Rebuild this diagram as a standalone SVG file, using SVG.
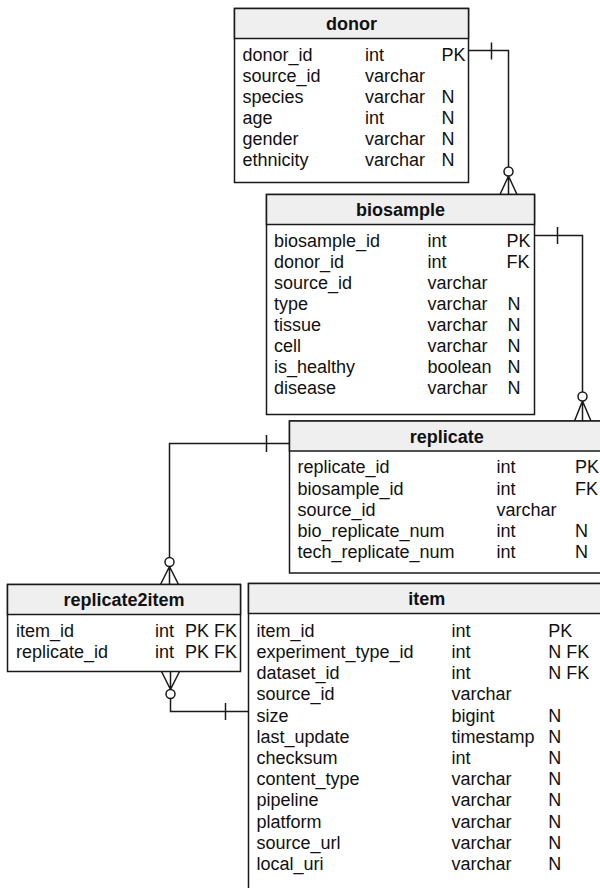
<svg xmlns="http://www.w3.org/2000/svg" width="600" height="888" viewBox="0 0 600 888">
<style>
.box{fill:#fff;stroke:#1a1a1a;stroke-width:1.5}
.hdr{fill:#efefef;stroke:#1a1a1a;stroke-width:1.5}
.t{font-family:"Liberation Sans",Arial,sans-serif;font-size:18px;fill:#111}
.ti{font-family:"Liberation Sans",Arial,sans-serif;font-size:18px;font-weight:bold;fill:#111;text-anchor:middle}
.c{fill:none;stroke:#1a1a1a;stroke-width:1.5}
.o{fill:#fff;stroke:#1a1a1a;stroke-width:1.5}
</style>
<rect width="600" height="888" fill="#fff"/>
<g id="connectors">
  <!-- donor -> biosample -->
  <path class="c" d="M468.5,50.5 H508.5 V167 M491.5,42.5 V59.5 M508.5,176 V194.5 M508.5,176 L500,194.5 M508.5,176 L517,194.5"/>
  <circle class="o" cx="508.5" cy="171.5" r="4.5"/>
  <!-- biosample -> replicate -->
  <path class="c" d="M534.5,235.5 H582.5 V392 M557.5,227 V244 M582.5,401 V421 M582.5,401 L574.5,421 M582.5,401 L591,421"/>
  <circle class="o" cx="582.5" cy="396.5" r="4.5"/>
  <!-- replicate -> replicate2item -->
  <path class="c" d="M289.5,443.5 H169.5 V557.5 M266.5,435 V452 M169.5,566.5 V584.5 M169.5,566.5 L160.5,584.5 M169.5,566.5 L178.5,584.5"/>
  <circle class="o" cx="169.5" cy="562" r="4.5"/>
  <!-- item -> replicate2item -->
  <path class="c" d="M248,711.5 H170.5 V698.5 M225.5,703 V720 M170.5,689.5 V671.5 M170.5,689.5 L161.5,671.5 M170.5,689.5 L179.5,671.5"/>
  <circle class="o" cx="170.5" cy="694" r="4.5"/>
</g>
<g id="donor">
  <rect class="box" x="234.5" y="8.5" width="234" height="174"/>
  <rect class="hdr" x="234.5" y="8.5" width="234" height="30"/>
  <text class="ti" x="351.5" y="30">donor</text>
  <text class="t" x="242.5" y="61">donor_id</text><text class="t" x="365" y="61">int</text><text class="t" x="441.5" y="61">PK</text>
  <text class="t" x="242.5" y="82">source_id</text><text class="t" x="365" y="82">varchar</text>
  <text class="t" x="242.5" y="103">species</text><text class="t" x="365" y="103">varchar</text><text class="t" x="441.5" y="103">N</text>
  <text class="t" x="242.5" y="124">age</text><text class="t" x="365" y="124">int</text><text class="t" x="441.5" y="124">N</text>
  <text class="t" x="242.5" y="145">gender</text><text class="t" x="365" y="145">varchar</text><text class="t" x="441.5" y="145">N</text>
  <text class="t" x="242.5" y="166">ethnicity</text><text class="t" x="365" y="166">varchar</text><text class="t" x="441.5" y="166">N</text>
</g>
<g id="biosample">
  <rect class="box" x="266.5" y="194.5" width="268" height="220"/>
  <rect class="hdr" x="266.5" y="194.5" width="268" height="30"/>
  <text class="ti" x="400.5" y="216">biosample</text>
  <text class="t" x="274" y="246.7">biosample_id</text><text class="t" x="427.5" y="246.7">int</text><text class="t" x="506.5" y="246.7">PK</text>
  <text class="t" x="274" y="267.8">donor_id</text><text class="t" x="427.5" y="267.8">int</text><text class="t" x="506.5" y="267.8">FK</text>
  <text class="t" x="274" y="288.9">source_id</text><text class="t" x="427.5" y="288.9">varchar</text>
  <text class="t" x="274" y="310">type</text><text class="t" x="427.5" y="310">varchar</text><text class="t" x="507.5" y="310">N</text>
  <text class="t" x="274" y="331.1">tissue</text><text class="t" x="427.5" y="331.1">varchar</text><text class="t" x="507.5" y="331.1">N</text>
  <text class="t" x="274" y="352.2">cell</text><text class="t" x="427.5" y="352.2">varchar</text><text class="t" x="507.5" y="352.2">N</text>
  <text class="t" x="274" y="373.3">is_healthy</text><text class="t" x="427.5" y="373.3">boolean</text><text class="t" x="507.5" y="373.3">N</text>
  <text class="t" x="274" y="394.4">disease</text><text class="t" x="427.5" y="394.4">varchar</text><text class="t" x="507.5" y="394.4">N</text>
</g>
<g id="replicate">
  <rect class="box" x="289.5" y="421" width="315" height="152"/>
  <rect class="hdr" x="289.5" y="421" width="315" height="30"/>
  <text class="ti" x="446.7" y="442.5">replicate</text>
  <text class="t" x="297.5" y="473.3">replicate_id</text><text class="t" x="496.5" y="473.3">int</text><text class="t" x="575" y="473.3">PK</text>
  <text class="t" x="297.5" y="494.5">biosample_id</text><text class="t" x="496.5" y="494.5">int</text><text class="t" x="575" y="494.5">FK</text>
  <text class="t" x="297.5" y="515.7">source_id</text><text class="t" x="496.5" y="515.7">varchar</text>
  <text class="t" x="297.5" y="536.9">bio_replicate_num</text><text class="t" x="496.5" y="536.9">int</text><text class="t" x="575" y="536.9">N</text>
  <text class="t" x="297.5" y="558.1">tech_replicate_num</text><text class="t" x="496.5" y="558.1">int</text><text class="t" x="575" y="558.1">N</text>
</g>
<g id="replicate2item">
  <rect class="box" x="7.5" y="584.5" width="233" height="87"/>
  <rect class="hdr" x="7.5" y="584.5" width="233" height="30"/>
  <text class="ti" x="124" y="606.2">replicate2item</text>
  <text class="t" x="16" y="636.7">item_id</text><text class="t" x="155" y="636.7">int</text><text class="t" x="185" y="636.7">PK FK</text>
  <text class="t" x="16" y="658">replicate_id</text><text class="t" x="155" y="658">int</text><text class="t" x="185" y="658">PK FK</text>
</g>
<g id="item">
  <rect class="box" x="248.5" y="583.5" width="357" height="320"/>
  <rect class="hdr" x="248.5" y="583.5" width="357" height="30"/>
  <text class="ti" x="426.7" y="605">item</text>
  <text class="t" x="256.5" y="636.7">item_id</text><text class="t" x="451.5" y="636.7">int</text><text class="t" x="548.3" y="636.7">PK</text>
  <text class="t" x="256.5" y="657.9">experiment_type_id</text><text class="t" x="451.5" y="657.9">int</text><text class="t" x="548.3" y="657.9">N FK</text>
  <text class="t" x="256.5" y="679.1">dataset_id</text><text class="t" x="451.5" y="679.1">int</text><text class="t" x="548.3" y="679.1">N FK</text>
  <text class="t" x="256.5" y="700.3">source_id</text><text class="t" x="451.5" y="700.3">varchar</text>
  <text class="t" x="256.5" y="721.5">size</text><text class="t" x="451.5" y="721.5">bigint</text><text class="t" x="548.3" y="721.5">N</text>
  <text class="t" x="256.5" y="742.7">last_update</text><text class="t" x="451.5" y="742.7">timestamp</text><text class="t" x="548.3" y="742.7">N</text>
  <text class="t" x="256.5" y="763.9">checksum</text><text class="t" x="451.5" y="763.9">int</text><text class="t" x="548.3" y="763.9">N</text>
  <text class="t" x="256.5" y="785.1">content_type</text><text class="t" x="451.5" y="785.1">varchar</text><text class="t" x="548.3" y="785.1">N</text>
  <text class="t" x="256.5" y="806.3">pipeline</text><text class="t" x="451.5" y="806.3">varchar</text><text class="t" x="548.3" y="806.3">N</text>
  <text class="t" x="256.5" y="827.5">platform</text><text class="t" x="451.5" y="827.5">varchar</text><text class="t" x="548.3" y="827.5">N</text>
  <text class="t" x="256.5" y="848.7">source_url</text><text class="t" x="451.5" y="848.7">varchar</text><text class="t" x="548.3" y="848.7">N</text>
  <text class="t" x="256.5" y="869.9">local_uri</text><text class="t" x="451.5" y="869.9">varchar</text><text class="t" x="548.3" y="869.9">N</text>
</g>
</svg>
